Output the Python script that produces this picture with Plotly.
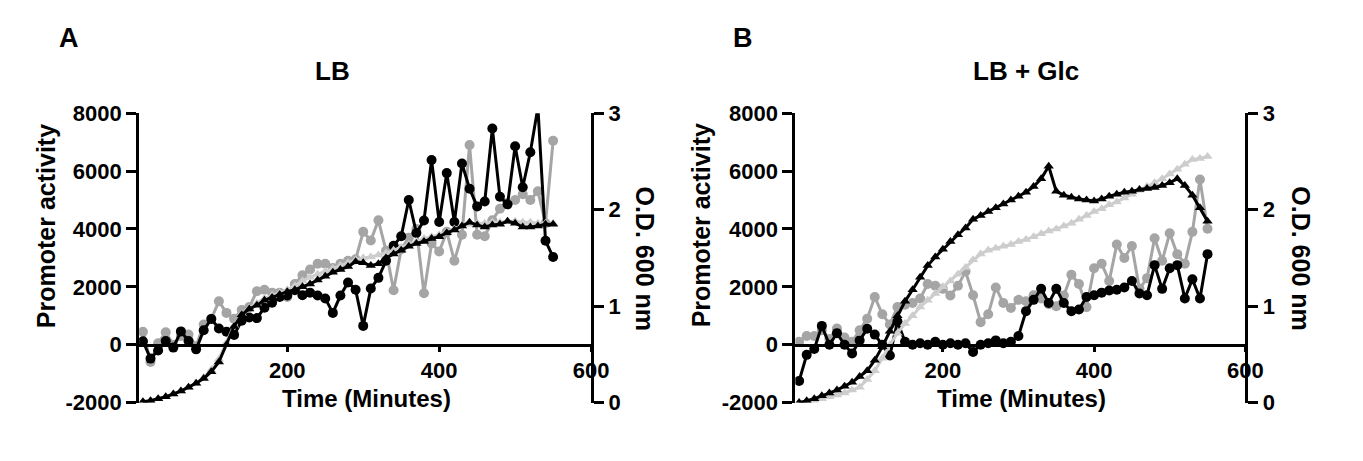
import plotly.graph_objects as go

W, H = 1363, 461

TIME = [10, 20, 30, 40, 50, 60, 70, 80, 90, 100, 110, 120, 130, 140, 150, 160, 170, 180, 190, 200,
        210, 220, 230, 240, 250, 260, 270, 280, 290, 300, 310, 320, 330, 340, 350, 360, 370, 380, 390, 400,
        410, 420, 430, 440, 450, 460, 470, 480, 490, 500, 510, 520, 530, 540, 550]

# Panel A (LB)
A_ACT_BLACK = [120, -480, -200, 130, -100, 460, 130, -160, 500, 890, 560, 450, 340, 830, 940, 920, 1280, 1450, 1650, 1700,
               1880, 1710, 1800, 1700, 1600, 1100, 1700, 2150, 1900, 650, 1940, 2310, 2900, 3420, 3750, 5000, 3860, 4290, 6380, 4240,
               5930, 4240, 6260, 5390, 4780, 4950, 7470, 5110, 4850, 6860, 5440, 6650, 8200, 3590, 3030]
A_ACT_GRAY = [450, -600, 50, 430, 0, 300, 350, -50, 700, 900, 1500, 1100, 900, 1200, 1300, 1850, 1900, 1800, 1800, 1650,
              2100, 2400, 2600, 2800, 2800, 2650, 2800, 2900, 2950, 3900, 3600, 4300, 3250, 1880, 3300, 3700, 4000, 1780, 3500, 3220,
              3900, 2900, 3800, 6900, 3800, 3750, 4300, 4700, 4900, 5000, 5200, 5000, 5300, 4200, 7050]
A_OD_BLACK = [0.01, 0.02, 0.04, 0.06, 0.09, 0.12, 0.16, 0.20, 0.25, 0.32, 0.42, 0.60, 0.79, 0.91, 0.97, 1.01, 1.06, 1.09, 1.12, 1.15,
              1.17, 1.20, 1.23, 1.27, 1.31, 1.35, 1.38, 1.41, 1.46, 1.45, 1.42, 1.44, 1.50, 1.54, 1.58, 1.62, 1.65, 1.67, 1.70, 1.72,
              1.76, 1.79, 1.83, 1.87, 1.84, 1.82, 1.84, 1.85, 1.88, 1.86, 1.82, 1.82, 1.83, 1.85, 1.85]
A_OD_GRAY = [0.01, 0.02, 0.04, 0.06, 0.09, 0.12, 0.16, 0.20, 0.26, 0.34, 0.45, 0.62, 0.80, 0.92, 0.98, 1.03, 1.08, 1.11, 1.14, 1.17,
             1.21, 1.26, 1.30, 1.33, 1.36, 1.39, 1.42, 1.45, 1.48, 1.50, 1.51, 1.53, 1.55, 1.58, 1.61, 1.64, 1.67, 1.70, 1.72, 1.74,
             1.77, 1.80, 1.83, 1.85, 1.86, 1.86, 1.87, 1.87, 1.88, 1.88, 1.87, 1.87, 1.86, 1.86, 1.86]

# Panel B (LB + Glc)
B_ACT_BLACK = [-1250, -350, -150, 650, 0, 400, 0, -300, 150, 550, 350, 0, -370, 800, 100, 0, 50, 0, 100, 0,
               50, 0, 50, -250, 0, 50, 150, 50, 100, 300, 1160, 1550, 1930, 1440, 1930, 1440, 1160, 1220, 1650, 1710,
               1800, 1875, 1900, 1980, 2200, 1770, 1710, 2750, 1930, 2640, 2750, 1600, 2260, 1600, 3130]
B_ACT_GRAY = [100, 300, 300, 500, 200, 560, 250, 100, 500, 900, 1650, 1050, 700, 1300, 1380, 1440, 1600, 2100, 2040, 1930,
              1700, 2040, 2530, 1710, 780, 1050, 1980, 1440, 1270, 1550, 1500, 1710, 1600, 1400, 1330, 1700, 2420, 2100, 1300, 2640,
              2800, 2200, 3460, 3000, 3410, 1930, 2300, 3680, 2900, 3850, 3130, 2800, 3900, 5710, 4010]
B_OD_BLACK = [0.00, 0.02, 0.04, 0.07, 0.10, 0.13, 0.17, 0.21, 0.27, 0.33, 0.44, 0.58, 0.74, 0.90, 1.05, 1.17, 1.30, 1.42, 1.51, 1.59,
              1.67, 1.74, 1.81, 1.90, 1.94, 1.98, 2.02, 2.06, 2.10, 2.14, 2.18, 2.24, 2.32, 2.45, 2.19, 2.15, 2.13, 2.11, 2.10, 2.09,
              2.11, 2.14, 2.16, 2.18, 2.19, 2.21, 2.22, 2.23, 2.25, 2.28, 2.32, 2.25, 2.15, 2.02, 1.88]
B_OD_GRAY = [0.00, 0.01, 0.02, 0.04, 0.06, 0.08, 0.10, 0.13, 0.16, 0.24, 0.33, 0.46, 0.60, 0.72, 0.82, 0.90, 0.99, 1.06, 1.13, 1.20,
             1.26, 1.33, 1.40, 1.48, 1.54, 1.58, 1.60, 1.62, 1.64, 1.67, 1.69, 1.72, 1.75, 1.78, 1.80, 1.83, 1.86, 1.90, 1.94, 1.98,
             2.01, 2.05, 2.08, 2.12, 2.16, 2.20, 2.24, 2.28, 2.32, 2.37, 2.42, 2.47, 2.52, 2.53, 2.55]

LEFT_TICKS = [-2000, 0, 2000, 4000, 6000, 8000]
LEFT_TICK_TEXT = ["-2000", "0", "2000", "4000", "6000", "8000"]
RIGHT_TICKS = [0, 1, 2, 3]
X_TICKS = [200, 400, 600]

BLACK = "#000000"
GRAY = "#a5a5a5"
LIGHT = "#cdcdcd"
FONT = "Liberation Sans, Arial, sans-serif"

fig = go.Figure()


def add_panel(xa, ya, ya2, act_blk, act_gry, od_blk, od_gry, od_gray_color):
    fig.add_trace(go.Scatter(x=TIME, y=od_gry, xaxis=xa, yaxis=ya2, mode="lines+markers",
                             line=dict(color=od_gray_color, width=3),
                             marker=dict(symbol="triangle-up", size=9, color=od_gray_color),
                             showlegend=False))
    fig.add_trace(go.Scatter(x=TIME, y=act_gry, xaxis=xa, yaxis=ya, mode="lines+markers",
                             line=dict(color=GRAY, width=3),
                             marker=dict(symbol="circle", size=10, color=GRAY),
                             showlegend=False))
    fig.add_trace(go.Scatter(x=TIME, y=od_blk, xaxis=xa, yaxis=ya2, mode="lines+markers",
                             line=dict(color=BLACK, width=3),
                             marker=dict(symbol="triangle-up", size=9, color=BLACK),
                             showlegend=False))
    fig.add_trace(go.Scatter(x=TIME, y=act_blk, xaxis=xa, yaxis=ya, mode="lines+markers",
                             line=dict(color=BLACK, width=3),
                             marker=dict(symbol="circle", size=10, color=BLACK),
                             showlegend=False))


add_panel("x", "y", "y2", A_ACT_BLACK, A_ACT_GRAY, A_OD_BLACK, A_OD_GRAY, LIGHT)
add_panel("x2", "y3", "y4", B_ACT_BLACK, B_ACT_GRAY, B_OD_BLACK, B_OD_GRAY, LIGHT)

tickfont = dict(family=FONT, size=22, color="black", weight="bold")
ydom = [1 - 413 / H, 1 - 107 / H]
zero_pos = 1 - 352 / H

common_x = dict(range=[5, 600], anchor="free", position=zero_pos, showline=True, linewidth=3,
                linecolor="black", ticks="outside", ticklen=5, tickwidth=3, tickcolor="black",
                tickvals=X_TICKS, showgrid=False, zeroline=False, tickfont=tickfont)
common_y = dict(range=[-2000, 8000], showline=True, linewidth=3, linecolor="black", ticks="outside",
                ticklen=10, tickwidth=3, tickcolor="black", tickvals=LEFT_TICKS, ticktext=LEFT_TICK_TEXT,
                showgrid=False, zeroline=False, tickfont=tickfont, domain=ydom)
common_y2 = dict(range=[0, 3], showline=True, linewidth=3, linecolor="black", ticks="outside",
                 ticklen=10, tickwidth=3, tickcolor="black", tickvals=RIGHT_TICKS, showgrid=False,
                 zeroline=False, tickfont=tickfont, side="right", domain=ydom)

fig.update_layout(
    width=W, height=H, margin=dict(l=0, r=0, t=0, b=0),
    paper_bgcolor="white", plot_bgcolor="rgba(0,0,0,0)",
    xaxis=dict(domain=[141 / W, 599 / W], **common_x),
    xaxis2=dict(domain=[806 / W, 1262 / W], **common_x),
    yaxis=dict(anchor="x", **common_y),
    yaxis2=dict(anchor="x", overlaying="y", **common_y2),
    yaxis3=dict(anchor="x2", **common_y),
    yaxis4=dict(anchor="x2", overlaying="y3", **common_y2),
)


def ann(text, px, py, size, angle=0):
    fig.add_annotation(text=text, x=px / W, y=1 - py / H, xref="paper", yref="paper",
                       showarrow=False, textangle=angle, xanchor="center", yanchor="middle",
                       font=dict(family=FONT, size=size, color="black", weight="bold"))


ann("A", 70, 27, 27)
ann("B", 753, 27, 27)
ann("LB", 337, 62, 26)
ann("LB + Glc", 1040, 62, 26)
ann("Promoter activity", 46, 226, 25, -90)
ann("Promoter activity", 710, 226, 25, -90)
ann("O.D. 600 nm", 654, 261, 25, 90)
ann("O.D. 600 nm", 1319, 261, 25, 90)
ann("Time (Minutes)", 371, 409, 24)
ann("Time (Minutes)", 1035, 409, 24)

fig.write_html("out.html")
